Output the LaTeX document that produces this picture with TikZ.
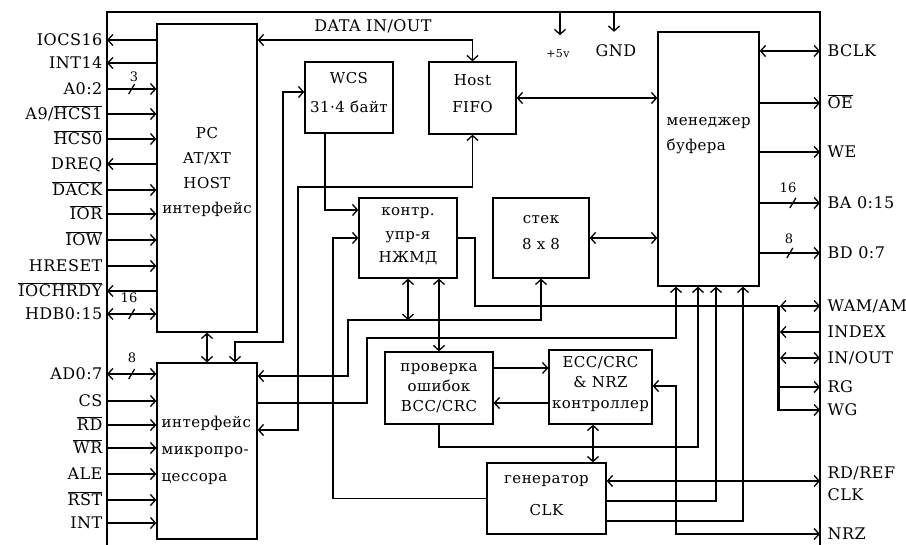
\documentclass[tikz,border=0pt]{standalone}
\usepackage{fontspec}
\setmainfont{DejaVu Serif}[LetterSpace=3]
\usetikzlibrary{arrows.meta,decorations.markings}

\newcommand{\ovl}[1]{$\overline{\hbox{#1}}$}

\begin{document}
\begin{tikzpicture}[x=1pt, y=-1pt, line width=1.3pt,
    >={Straight Barb[length=5pt,width=11pt]},
    blk/.style={draw, inner sep=0pt},
    txt/.style={inner sep=0pt, align=center, font=\fontsize{15}{#1}\selectfont},
    lbl/.style={anchor=east, inner xsep=4pt, inner ysep=0pt,
      text height=12pt, text depth=1pt, font=\fontsize{16}{18}\selectfont},
    rlbl/.style={lbl, anchor=west, inner xsep=7pt},
    num/.style={inner sep=0pt, font=\fontsize{13}{14}\selectfont},
    bus/.style={postaction={decorate}, decoration={markings,
      mark=at position #1 with {\draw[-] (-3pt,-5pt) -- (3pt,5pt);}}}]
  \useasboundingbox (0,0) rectangle (906,545);

  % outer frame
  \draw (107,548) -- (107,12) -- (820,12) -- (820,548);

  % blocks
  \node[blk, minimum width=100pt, minimum height=308pt] (host) at (207,178) {};
  \node[blk, minimum width=100pt, minimum height=176pt] (micro) at (207,451) {};
  \node[blk, minimum width=88pt, minimum height=71pt] (wcs) at (349,97.5) {};
  \node[blk, minimum width=87pt, minimum height=72pt] (fifo) at (472.5,98) {};
  \node[blk, minimum width=101pt, minimum height=254pt] (buf) at (708.5,159) {};
  \node[blk, minimum width=96pt, minimum height=80pt] (stack) at (541,238) {};
  \node[blk, minimum width=98pt, minimum height=80pt] (fdc) at (408,238) {};
  \node[blk, minimum width=108pt, minimum height=72pt] (err) at (439,388) {};
  \node[blk, minimum width=103pt, minimum height=74pt] (ecc) at (600.5,387) {};
  \node[blk, minimum width=119pt, minimum height=71pt] (clk) at (546.5,498.5) {};

  % block texts
  \node[txt=25] (hostT) at (207,172) {PC\\AT/XT\\HOST\\интерфейс};
  \node[txt=27, anchor=west, align=left] (microT) at (161,450) {интерфейс\\микропро-\\цессора};
  \node[txt=29] (wcsT) at (349,93) {WCS\\31·4 байт};
  \node[txt=27] (fifoT) at (472.5,94) {Host\\FIFO};
  \node[txt=25, anchor=west, align=left] (bufT) at (666,136) {менеджер\\буфера};
  \node[txt=26] (stackT) at (541,233) {стек\\8 x 8};
  \node[txt=23.5] (fdcT) at (408,236.5) {контр.\\упр-я\\НЖМД};
  \node[txt=20] (errT) at (439,388) {проверка\\ошибок\\BCC/CRC};
  \node[txt=20.5] (eccT) at (600.5,383.5) {ECC/CRC\\\& NRZ\\контроллер};
  \node[txt=32] (clkT) at (546.5,496) {генератор\\CLK};

  % left signals
  \node[lbl] (iocs) at (107,40) {IOCS16};
  \node[lbl] (int14) at (107,63) {INT14};
  \node[lbl] (a02) at (107,89) {A0:2};
  \node[lbl] (a9) at (107,114) {A9/\ovl{HCS1}};
  \node[lbl] (hcs0) at (107,139) {\ovl{HCS0}};
  \node[lbl] (dreq) at (107,164) {DREQ};
  \node[lbl] (dack) at (107,190) {\ovl{DACK}};
  \node[lbl] (ior) at (107,214) {\ovl{IOR}};
  \node[lbl] (iow) at (107,240) {\ovl{IOW}};
  \node[lbl] (hreset) at (107,266) {HRESET};
  \node[lbl] (iochrdy) at (107,291) {\ovl{IOCHRDY}};
  \node[lbl] (hdb) at (107,314) {HDB0:15};
  \node[lbl] (ad) at (107,374) {AD0:7};
  \node[lbl] (cs) at (107,401) {CS};
  \node[lbl] (rd) at (107,425) {\ovl{RD}};
  \node[lbl] (wr) at (107,448) {\ovl{WR}};
  \node[lbl] (ale) at (107,474) {ALE};
  \node[lbl] (rst) at (107,500) {\ovl{RST}};
  \node[lbl] (int) at (107,523) {INT};

  % right signals
  \node[rlbl] (bclk) at (820,51) {BCLK};
  \node[rlbl] (oe) at (820,103) {\ovl{OE}};
  \node[rlbl] (we) at (820,152) {WE};
  \node[rlbl] (ba) at (820,203) {BA 0:15};
  \node[rlbl] (bd) at (820,253) {BD 0:7};
  \node[rlbl] (wam) at (820,306) {WAM/AM};
  \node[rlbl] (index) at (820,332) {INDEX};
  \node[rlbl] (inout) at (820,358) {IN/OUT};
  \node[rlbl] (rg) at (820,387) {RG};
  \node[rlbl] (wg) at (820,410) {WG};
  \node[anchor=west, inner xsep=7pt, inner ysep=0pt, align=left,
    font=\fontsize{16}{22}\selectfont] (rdref) at (820,484) {RD/REF\\CLK};
  \node[rlbl] (nrz) at (820,534) {NRZ};

  % top labels
  \node[lbl, anchor=center] (data) at (373,26) {DATA IN/OUT};
  \coordinate (vcc) at (560,12);
  \coordinate (gndc) at (614,12);
  \node[inner sep=0pt, font=\fontsize{11}{12}\selectfont] (p5v) at (558,54) {+5v};
  \node[lbl, anchor=center] (gnd) at (616,51) {GND};
  \draw[->, shorten >=14pt] (vcc) -- (vcc |- p5v.north);
  \draw[->, shorten >=12pt] (gndc) -- (gndc |- gnd.north);

  % bus widths
  \node[num] (n3) at (134,77) {3};
  \node[num] (n16a) at (129,298) {16};
  \node[num] (n8a) at (132,358) {8};
  \node[num] (n16b) at (788,188) {16};
  \node[num] (n8b) at (789,239) {8};

  % host interface lines
  \draw[<-] (iocs.east) -- (iocs -| host.west);
  \draw[<-] (int14.east) -- (int14 -| host.west);
  \draw[->, bus=.5] (a02.east) -- (a02 -| host.west);
  \draw[->] (a9.east) -- (a9 -| host.west);
  \draw[->] (hcs0.east) -- (hcs0 -| host.west);
  \draw[<-] (dreq.east) -- (dreq -| host.west);
  \draw[->] (dack.east) -- (dack -| host.west);
  \draw[->] (ior.east) -- (ior -| host.west);
  \draw[->] (iow.east) -- (iow -| host.west);
  \draw[->] (hreset.east) -- (hreset -| host.west);
  \draw[<-] (iochrdy.east) -- (iochrdy -| host.west);
  \draw[<->, bus=.5] (hdb.east) -- (hdb -| host.west);

  % microprocessor interface lines
  \draw[<->, bus=.5] (ad.east) -- (ad -| micro.west);
  \draw[->] (cs.east) -- (cs -| micro.west);
  \draw[->] (rd.east) -- (rd -| micro.west);
  \draw[->] (wr.east) -- (wr -| micro.west);
  \draw[->] (ale.east) -- (ale -| micro.west);
  \draw[->] (rst.east) -- (rst -| micro.west);
  \draw[->] (int.east) -- (int -| micro.west);

  % buffer manager lines
  \draw[<->] (bclk -| buf.east) -- (bclk.west);
  \draw[->] (oe -| buf.east) -- (oe.west);
  \draw[->] (we -| buf.east) -- (we.west);
  \draw[->, bus=.55] (ba -| buf.east) -- (ba.west);
  \draw[->, bus=.5] (bd -| buf.east) -- (bd.west);

  % disk bus
  \coordinate (bt) at (778,306);
  \coordinate (bb) at (778,411);
  \draw[line width=3pt] (bt) -- (bb);
  \draw[<->, shorten <=2pt] (wam -| bt) -- (wam.west);
  \draw[->, shorten >=2pt] (index.west) -- (index -| bt);
  \draw[<->, shorten <=2pt] (inout -| bt) -- (inout.west);
  \draw[->] (rg -| bt) -- (rg.west);
  \draw[->] (wg -| bt) -- (wg.west);

  % internal connections
  \draw[<->] (host.south) -- (micro.north);
  \draw[<->] (host.east |- 0,40) -| (fifo.north);
  \draw[<->] (fifo.east) -- (fifo.east -| buf.west);
  \draw[<->] (stack.east) -- (stack.east -| buf.west);
  \draw[<->] ([xshift=28pt]micro.north) |- (283,342) |- (wcs.west |- 0,92);
  \draw[->] (325,0 |- wcs.south) |- (fdc.west |- 0,210);
  \draw[<->] (fifo.south) |- (298,187) |- (micro.east |- 0,430);
  \draw[->] (clk.west) -| (333,238) -- (fdc.west);
  \draw[<->] (micro.east |- 0,376) -| (348,320) -| (stack.south);
  \draw[<->] (fdc.south) -- (fdc.south |- 0,320);
  \draw[<->] (err.north |- fdc.south) -- (err.north);
  \draw[->] (micro.east |- 0,403) -| (367,338) -| (676,0 |- buf.south);
  \draw (fdc.east) -| (475,306) -- (bt);
  \draw[->] (err.east |- 0,368) -- (ecc.west |- 0,368);
  \draw[->] (ecc.west |- 0,403) -- (err.east |- 0,403);
  \draw[->] (err.south) |- (698,447) -- (698,0 |- buf.south);
  \draw[<->] (593,0 |- ecc.south) -- (593,0 |- clk.north);
  \draw[<->] (clk.east |- 0,481) -- (rdref.west |- 0,481);
  \draw[->] (clk.east |- 0,501) -| (716,0 |- buf.south);
  \draw[->] (clk.east |- 0,521) -| (743,0 |- buf.south);
  \draw[<->] (ecc.east |- 0,386) -| (676,534) -- (nrz.west);
\end{tikzpicture}
\end{document}
